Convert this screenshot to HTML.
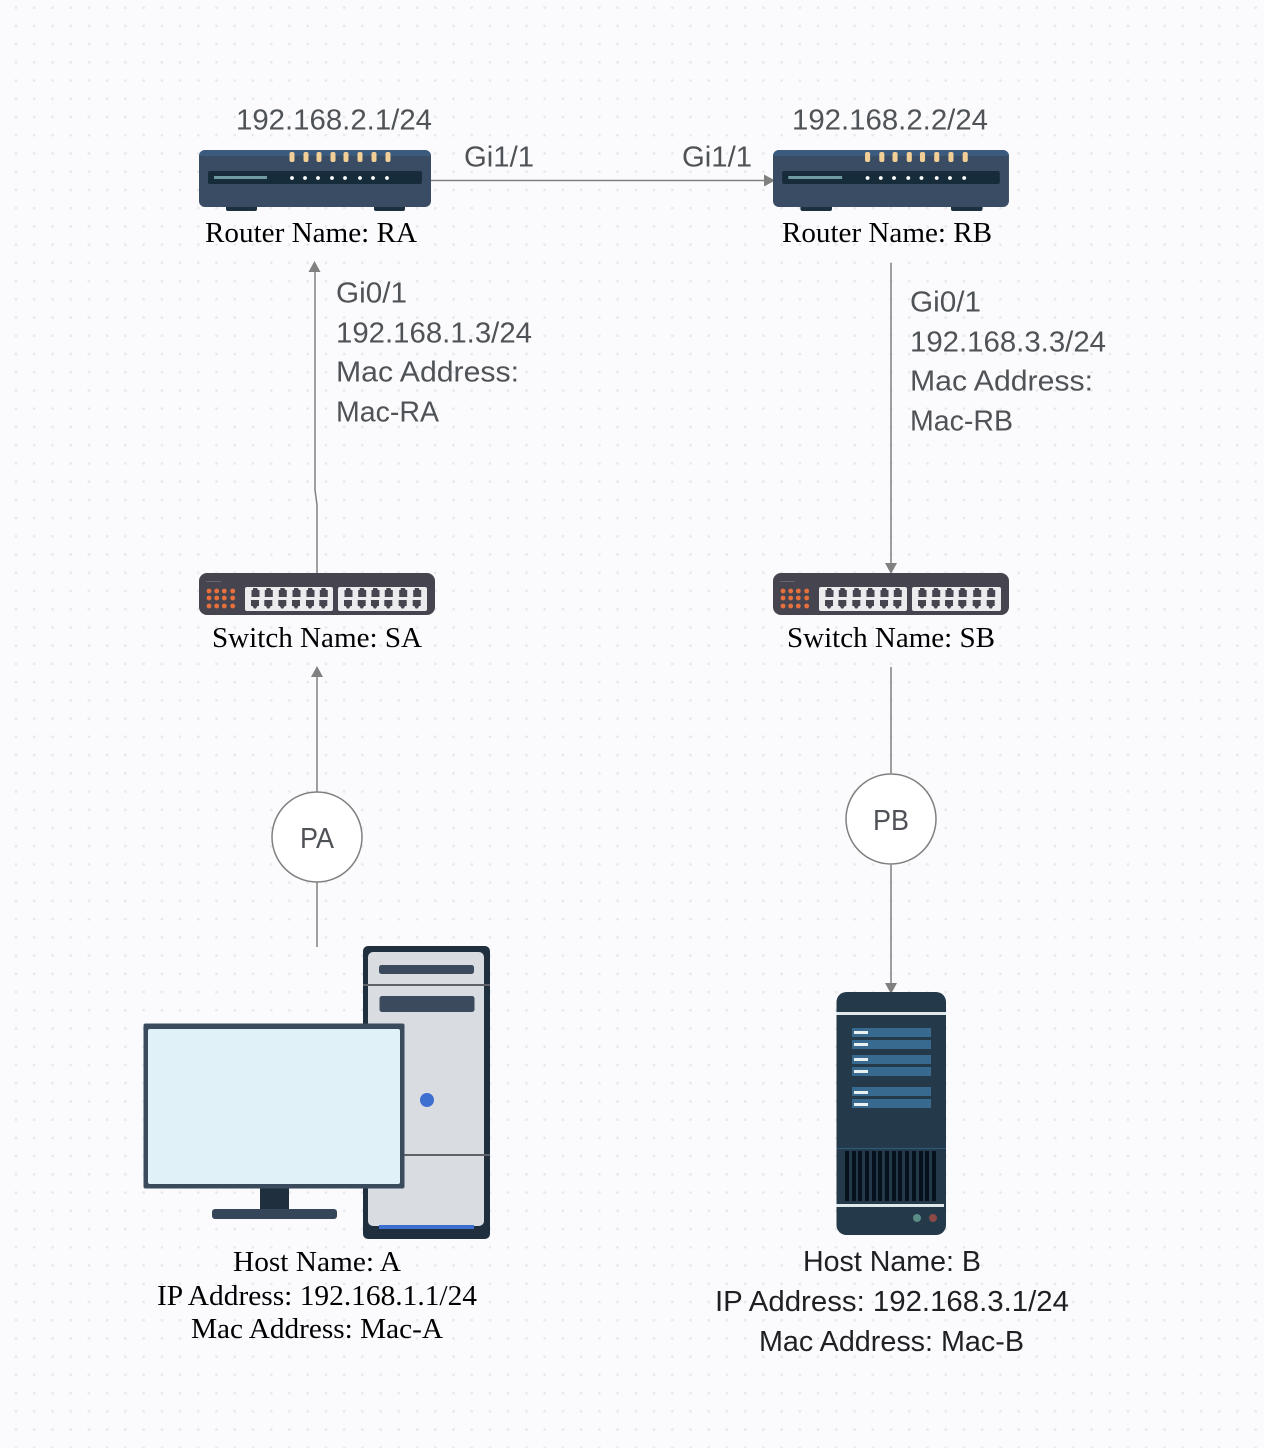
<!DOCTYPE html>
<html><head><meta charset="utf-8"><style>html,body{margin:0;padding:0;background:#fbfbfd}svg{display:block}
.s{font-family:"Liberation Sans",sans-serif;font-size:29px;fill:#4f5256}
.t{font-family:"Liberation Serif",serif;font-size:29px;fill:#000}</style></head><body>
<svg width="1264" height="1448" viewBox="0 0 1264 1448" xmlns="http://www.w3.org/2000/svg">
<defs>
<pattern id="d" x="7" y="-1.4" width="18.23" height="18.23" patternUnits="userSpaceOnUse"><circle cx="9" cy="9" r="1.4" fill="#e9e9ec"/></pattern>
<g id="router">
<rect x="27" y="55" width="31" height="6" rx="2" fill="#1d3040"/><rect x="175" y="55" width="31" height="6" rx="2" fill="#1d3040"/>
<rect x="0" y="0" width="232" height="57" rx="6" fill="#3a4c63"/>
<path d="M0 6a6 6 0 0 1 6-6h220a6 6 0 0 1 6 6H0z" fill="#3b5b7e"/>
<rect x="9" y="21" width="214" height="13" rx="2" fill="#172c3b"/>
<rect x="15" y="26" width="53" height="3" fill="#6f9aa2"/>
<g fill="#f2cf96"><rect x="90.500" y="2" width="5" height="10" rx="2"/><rect x="104.500" y="2" width="5" height="10" rx="2"/><rect x="117.500" y="2" width="5" height="10" rx="2"/><rect x="131.500" y="2" width="5" height="10" rx="2"/><rect x="144.500" y="2" width="5" height="10" rx="2"/><rect x="158.500" y="2" width="5" height="10" rx="2"/><rect x="172.500" y="2" width="5" height="10" rx="2"/><rect x="186.500" y="2" width="5" height="10" rx="2"/></g>
<g fill="#fff"><circle cx="93" cy="28" r="1.9"/><circle cx="106" cy="28" r="1.9"/><circle cx="119" cy="28" r="1.9"/><circle cx="133" cy="28" r="1.9"/><circle cx="146" cy="28" r="1.9"/><circle cx="161" cy="28" r="1.9"/><circle cx="174" cy="28" r="1.9"/><circle cx="188" cy="28" r="1.9"/></g>
</g>
<g id="port"><path d="M-2 -5h4l1 2h1.500v7h-8v-7h1.500z" fill="#46454f"/></g>
<g id="port2"><path d="M-4 -4h8v6h-1.500l-1.500 2.500h-2l-1.500 -2.500h-1.500z" fill="#46454f"/></g>
<g id="switch">
<rect x="0" y="0" width="236" height="42" rx="8" fill="#46454f"/>
<rect x="7" y="8" width="15" height="1" fill="#666570"/>
<g fill="#e7703c"><circle cx="10" cy="18" r="2.4"/><circle cx="17.700" cy="18" r="2.4"/><circle cx="25.300" cy="18" r="2.4"/><circle cx="33.700" cy="18" r="2.4"/><circle cx="10" cy="25" r="2.4"/><circle cx="17.700" cy="25" r="2.4"/><circle cx="25.300" cy="25" r="2.4"/><circle cx="33.700" cy="25" r="2.4"/><circle cx="10" cy="33" r="2.4"/><circle cx="17.700" cy="33" r="2.4"/><circle cx="25.300" cy="33" r="2.4"/><circle cx="33.700" cy="33" r="2.4"/></g>
<rect x="46" y="14" width="88" height="24" rx="2" fill="#ececee"/><rect x="139" y="14" width="89" height="24" rx="2" fill="#ececee"/>
<use href="#port" x="56" y="20"/><use href="#port" x="69.300" y="20"/><use href="#port" x="83.300" y="20"/><use href="#port" x="97" y="20"/><use href="#port" x="111" y="20"/><use href="#port" x="124.300" y="20"/>
<use href="#port" x="149" y="20"/><use href="#port" x="162.700" y="20"/><use href="#port" x="176" y="20"/><use href="#port" x="189.300" y="20"/><use href="#port" x="203.700" y="20"/><use href="#port" x="217.700" y="20"/>
<use href="#port2" x="56" y="31"/><use href="#port2" x="69.300" y="31"/><use href="#port2" x="83.300" y="31"/><use href="#port2" x="97" y="31"/><use href="#port2" x="111" y="31"/><use href="#port2" x="124.300" y="31"/>
<use href="#port2" x="149" y="31"/><use href="#port2" x="162.700" y="31"/><use href="#port2" x="176" y="31"/><use href="#port2" x="189.300" y="31"/><use href="#port2" x="203.700" y="31"/><use href="#port2" x="217.700" y="31"/>
</g>
</defs>
<rect width="1264" height="1448" fill="#fbfbfd"/>
<rect width="1264" height="1448" fill="url(#d)"/>

<g fill="none" stroke="#808080" stroke-width="1.5">
<path d="M431 180.500H766"/>
<path d="M317 573V505L315 490V270"/>
<path d="M317 947V882M317 792V675"/>
<path d="M891 263V563"/>
<path d="M891 667V773M891 865V984"/>
</g>
<g fill="#808080">
<path d="M775 180.500l-11 -6v12z"/>
<path d="M314.500 261l-6 11h12z"/>
<path d="M317 666l-6 11h12z"/>
<path d="M891 574l-6 -11h12z"/>
<path d="M891 994l-6 -11h12z"/>
</g>
<circle cx="317" cy="837" r="45" fill="#fff" stroke="#808080" stroke-width="1.5"/>
<circle cx="891" cy="819" r="45" fill="#fff" stroke="#808080" stroke-width="1.5"/>

<use href="#router" x="199" y="150"/>
<g transform="translate(773 150) scale(1.017 1)"><use href="#router"/></g>
<use href="#switch" x="199" y="573"/>
<use href="#switch" x="773" y="573"/>

<!-- tower -->
<rect x="363" y="946" width="127" height="293" rx="5" fill="#1f2f3e"/>
<rect x="368" y="952" width="116" height="274" rx="5" fill="#d9dce1"/>
<rect x="379" y="965" width="95" height="9" rx="2.500" fill="#3b4a5c"/>
<rect x="363" y="984" width="127" height="2" fill="#5f6369"/>
<rect x="379.500" y="996" width="95" height="16" rx="2.500" fill="#3b4a5c"/>
<circle cx="427" cy="1100" r="7" fill="#3d6fd0"/>
<rect x="363" y="1154" width="127" height="2" fill="#5f6369"/>
<rect x="379" y="1225" width="95" height="4" fill="#3d6fd0"/>
<!-- monitor -->
<rect x="260" y="1187" width="29" height="23" fill="#1f2f3e"/>
<rect x="212" y="1209" width="125" height="10" rx="3" fill="#35465a"/>
<rect x="143.500" y="1023.500" width="261" height="165" rx="2" fill="#3a4b5e"/>
<rect x="148" y="1029" width="252" height="155" rx="2" fill="#e0f1f8"/>

<!-- server -->
<rect x="836.500" y="992" width="109.500" height="243" rx="10" fill="#24394a"/>
<rect x="836.500" y="1012" width="109.500" height="3" fill="#dfe9ea"/>
<g fill="#38698f"><rect x="852" y="1028" width="79" height="9"/><rect x="852" y="1040" width="79" height="9"/><rect x="852" y="1055" width="79" height="9"/><rect x="852" y="1067" width="79" height="9"/><rect x="852" y="1087" width="79" height="9"/><rect x="852" y="1099" width="79" height="9"/></g>
<g fill="#e8f0f2"><rect x="854" y="1031" width="14" height="3"/><rect x="854" y="1043" width="14" height="3"/><rect x="854" y="1058" width="14" height="3"/><rect x="854" y="1070" width="14" height="3"/><rect x="854" y="1091" width="14" height="3"/><rect x="854" y="1103" width="14" height="3"/></g>
<rect x="836.500" y="1148" width="109.500" height="1" fill="#2f5a7a"/>
<g fill="#06111e"><rect x="845" y="1151" width="4" height="50"/><rect x="852" y="1151" width="4" height="50"/><rect x="858" y="1151" width="4" height="50"/><rect x="865" y="1151" width="4" height="50"/><rect x="872" y="1151" width="4" height="50"/><rect x="878" y="1151" width="4" height="50"/><rect x="885" y="1151" width="4" height="50"/><rect x="892" y="1151" width="4" height="50"/><rect x="898" y="1151" width="4" height="50"/><rect x="905" y="1151" width="4" height="50"/><rect x="912" y="1151" width="4" height="50"/><rect x="919" y="1151" width="4" height="50"/><rect x="925" y="1151" width="4" height="50"/><rect x="932" y="1151" width="4" height="50"/></g>
<rect x="836.500" y="1204" width="107.500" height="3" fill="#dfe9ea"/>
<circle cx="917" cy="1218" r="4" fill="#5a8e85"/><circle cx="933" cy="1218" r="4" fill="#8c4a47"/>

<!-- sans labels -->
<g class="s">
<text x="236" y="129.500" textLength="196" lengthAdjust="spacingAndGlyphs">192.168.2.1/24</text>
<text x="792" y="129.500" textLength="196" lengthAdjust="spacingAndGlyphs">192.168.2.2/24</text>
<text x="464" y="166.500" textLength="70" lengthAdjust="spacingAndGlyphs">Gi1/1</text>
<text x="682" y="166.500" textLength="70" lengthAdjust="spacingAndGlyphs">Gi1/1</text>
<text x="336" y="302.500" textLength="71" lengthAdjust="spacingAndGlyphs">Gi0/1</text>
<text x="336" y="342.500" textLength="196" lengthAdjust="spacingAndGlyphs">192.168.1.3/24</text>
<text x="336" y="381.500" textLength="183" lengthAdjust="spacingAndGlyphs">Mac Address:</text>
<text x="336" y="421.500" textLength="103" lengthAdjust="spacingAndGlyphs">Mac-RA</text>
<text x="910" y="311.500" textLength="71" lengthAdjust="spacingAndGlyphs">Gi0/1</text>
<text x="910" y="351.500" textLength="196" lengthAdjust="spacingAndGlyphs">192.168.3.3/24</text>
<text x="910" y="390.500" textLength="183" lengthAdjust="spacingAndGlyphs">Mac Address:</text>
<text x="910" y="430.500" textLength="103" lengthAdjust="spacingAndGlyphs">Mac-RB</text>
<text x="300" y="848" textLength="34" lengthAdjust="spacingAndGlyphs">PA</text>
<text x="873" y="830" textLength="36" lengthAdjust="spacingAndGlyphs">PB</text>
</g>
<g class="s" style="fill:#1f2023">
<text x="803" y="1271" textLength="178" lengthAdjust="spacingAndGlyphs">Host Name: B</text>
<text x="715" y="1311" textLength="354" lengthAdjust="spacingAndGlyphs">IP Address: 192.168.3.1/24</text>
<text x="759" y="1351" textLength="265" lengthAdjust="spacingAndGlyphs">Mac Address: Mac-B</text>
</g>
<!-- serif labels -->
<g class="t">
<text x="205" y="242" textLength="212" lengthAdjust="spacingAndGlyphs">Router Name: RA</text>
<text x="782" y="242" textLength="210" lengthAdjust="spacingAndGlyphs">Router Name: RB</text>
<text x="212" y="647" textLength="210" lengthAdjust="spacingAndGlyphs">Switch Name: SA</text>
<text x="787" y="647" textLength="208" lengthAdjust="spacingAndGlyphs">Switch Name: SB</text>
<text x="233" y="1271" textLength="168" lengthAdjust="spacingAndGlyphs">Host Name: A</text>
<text x="157" y="1305" textLength="320" lengthAdjust="spacingAndGlyphs">IP Address: 192.168.1.1/24</text>
<text x="191" y="1338" textLength="252" lengthAdjust="spacingAndGlyphs">Mac Address: Mac-A</text>
</g>
</svg>
</body></html>
